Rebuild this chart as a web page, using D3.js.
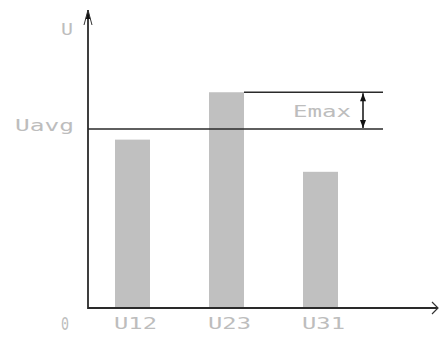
<!DOCTYPE html>
<html><head><meta charset="utf-8">
<script src="https://cdn.jsdelivr.net/npm/d3@7"></script>
<style>
html,body{margin:0;padding:0;background:#fff;}
text{font-family:"DejaVu Sans Mono",monospace;fill:#bdbdbd;font-size:15px;}
</style></head>
<body>
<script>
const categories = ["U12", "U23", "U31"];
const values = [56.5, 72.4, 45.7];
const avgValue = 60.1;
const yAxisLabel = "U";
const avgLabel = "Uavg";
const zeroLabel = "0";
const emaxLabel = "Emax";

const W = 439, H = 342;
const svg = d3.select("body").append("svg").attr("width", W).attr("height", H);

const x0 = 88, y0 = 308;
const y = d3.scaleLinear().domain([0, 100]).range([y0, 10]);
const x = d3.scalePoint().domain(categories).range([132.5, 320.5]);
const barW = 35;
const lineColor = "#2a2a2a";

// bars
svg.selectAll("rect.bar").data(values).enter().append("rect")
  .attr("x", (d, i) => x(categories[i]) - barW / 2)
  .attr("y", d => y(d))
  .attr("width", barW)
  .attr("height", d => y(0) - y(d))
  .attr("fill", "#c0c0c0");

const maxV = d3.max(values);
const maxCat = categories[values.indexOf(maxV)];
const lineEnd = 383;
const arrowX = 363;

// average line
svg.append("line").attr("x1", x0).attr("x2", lineEnd)
  .attr("y1", y(avgValue)).attr("y2", y(avgValue))
  .attr("stroke", lineColor).attr("stroke-width", 1.5);
// max line
svg.append("line").attr("x1", x(maxCat) + barW / 2).attr("x2", lineEnd)
  .attr("y1", y(maxV)).attr("y2", y(maxV))
  .attr("stroke", lineColor).attr("stroke-width", 1.5);

// double arrow
const ya = y(maxV), yb = y(avgValue);
svg.append("line").attr("x1", arrowX).attr("x2", arrowX).attr("y1", ya + 1).attr("y2", yb - 1)
  .attr("stroke", "#111").attr("stroke-width", 1.5);
svg.append("path").attr("d", `M${arrowX},${ya + 1} L${arrowX - 3},${ya + 9} L${arrowX + 3},${ya + 9} Z`).attr("fill", "#111");
svg.append("path").attr("d", `M${arrowX},${yb - 1} L${arrowX - 3},${yb - 9} L${arrowX + 3},${yb - 9} Z`).attr("fill", "#111");

// axes
const yTop = y.range()[1];
svg.append("line").attr("x1", x0).attr("x2", x0).attr("y1", yTop).attr("y2", y0 + 1)
  .attr("stroke", lineColor).attr("stroke-width", 1.8);
svg.append("path").attr("d", `M${x0},${yTop} L${x0 - 2.5},${yTop + 9} L${x0 + 2.5},${yTop + 9} Z`).attr("fill", "#111");
svg.append("path").attr("d", `M${x0 - 4},${yTop + 15} L${x0},${yTop} L${x0 + 4},${yTop + 15}`)
  .attr("fill", "none").attr("stroke", "#333").attr("stroke-width", 1);

const xRight = 438;
svg.append("line").attr("x1", x0).attr("x2", xRight).attr("y1", y0).attr("y2", y0)
  .attr("stroke", lineColor).attr("stroke-width", 1.8);
svg.append("path").attr("d", `M${xRight - 6},${y0 - 6} L${xRight},${y0} L${xRight - 6},${y0 + 6}`)
  .attr("fill", "none").attr("stroke", "#333").attr("stroke-width", 1.2);

// labels
function label(txt, cx, baseline, len, size) {
  const t = svg.append("text").attr("x", cx).attr("y", baseline).attr("text-anchor", "middle")
    .attr("textLength", len).attr("lengthAdjust", "spacingAndGlyphs").text(txt);
  if (size) t.style("font-size", size + "px");
}
categories.forEach(c => label(c, x(c) + 3, 329, 43));
label(yAxisLabel, 67, 35, 12);
label(avgLabel, 44.5, 131, 59);
label(zeroLabel, 65, 330, 8, 18);
label(emaxLabel, 322, 117, 58);
</script>
</body></html>
